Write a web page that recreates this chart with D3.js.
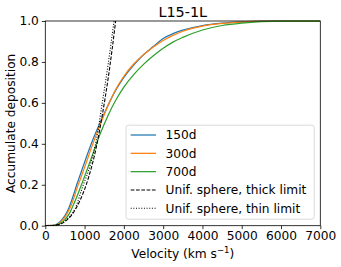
<!DOCTYPE html>
<html>
<head>
<meta charset="utf-8">
<script src="https://cdn.jsdelivr.net/npm/d3@7"></script>
<style>
  html, body { margin: 0; padding: 0; background: #fff; }
  svg { display: block; font-family: "DejaVu Sans", sans-serif; }
</style>
</head>
<body>
<svg id="chart" width="341" height="267"></svg>
<script>
// ---- data ----
const title = "L15-1L";
const xTicks = [0, 1000, 2000, 3000, 4000, 5000, 6000, 7000];
const yTicks = [0, 0.2, 0.4, 0.6, 0.8, 1.0];

const vGrid = [0, 200, 300, 400, 500, 600, 700, 800, 900, 1000, 1200, 1400, 1600, 1800, 2000, 2250, 2500, 2750, 3000, 3250, 3500, 4000, 4500, 5000, 5500, 6000, 7000];
const dep150 = [0, 0.001, 0.008, 0.025, 0.05, 0.087, 0.14, 0.2, 0.255, 0.31, 0.415, 0.505, 0.59, 0.665, 0.725, 0.785, 0.835, 0.875, 0.915, 0.938, 0.955, 0.978, 0.99, 0.996, 0.999, 1, 1];
const dep300 = [0, 0.001, 0.006, 0.02, 0.042, 0.075, 0.12, 0.18, 0.232, 0.285, 0.395, 0.495, 0.588, 0.668, 0.73, 0.79, 0.835, 0.873, 0.905, 0.93, 0.95, 0.975, 0.988, 0.995, 0.999, 1, 1];
const dep700 = [0, 0.0005, 0.004, 0.013, 0.03, 0.055, 0.095, 0.14, 0.19, 0.24, 0.345, 0.45, 0.54, 0.615, 0.677, 0.738, 0.788, 0.83, 0.867, 0.897, 0.92, 0.956, 0.978, 0.99, 0.997, 1, 1];

const vThick = [0, 300, 500, 700, 900, 1100, 1300, 1450, 1600, 1700, 1790];
const depThick = [0, 0.004, 0.02, 0.06, 0.13, 0.235, 0.385, 0.54, 0.72, 0.86, 1.0];
const vThin = [0, 250, 450, 600, 750, 950, 1150, 1300, 1450, 1600, 1750];
const depThin = [0, 0.002, 0.015, 0.04, 0.08, 0.19, 0.3, 0.42, 0.6, 0.79, 1.0];

const seriesNames = ["150d", "300d", "700d", "Unif. sphere, thick limit", "Unif. sphere, thin limit"];

// ---- layout ----
const svg = d3.select("#chart");
const pLeft = 45.3, pRight = 320.3, pTop = 21, pBottom = 225.7;
const x = d3.scaleLinear().domain([0, 7000]).range([pLeft, pRight]);
const y = d3.scaleLinear().domain([0, 1]).range([pBottom, pTop]);

const series = [
  { name: seriesNames[0], v: vGrid, f: dep150, color: "#1f77b4", dash: null, w: 1.25 },
  { name: seriesNames[1], v: vGrid, f: dep300, color: "#ff7f0e", dash: null, w: 1.25 },
  { name: seriesNames[2], v: vGrid, f: dep700, color: "#2ca02c", dash: null, w: 1.25 },
  { name: seriesNames[3], v: vThick, f: depThick, color: "#000", dash: "3.7,1.6", w: 1.1 },
  { name: seriesNames[4], v: vThin, f: depThin, color: "#000", dash: "1,1.65", w: 1.1 }
];

svg.append("defs").append("clipPath").attr("id", "clip")
  .append("rect").attr("x", pLeft).attr("y", pTop - 1).attr("width", pRight - pLeft).attr("height", pBottom - pTop + 1);

const line = d3.line().x(d => x(d[0])).y(d => y(d[1])).curve(d3.curveMonotoneX);
const g = svg.append("g").attr("clip-path", "url(#clip)");
series.forEach(s => {
  g.append("path")
    .datum(s.v.map((v, i) => [v, s.f[i]]))
    .attr("d", line)
    .attr("fill", "none")
    .attr("stroke", s.color)
    .attr("stroke-width", s.w)
    .attr("stroke-dasharray", s.dash);
});

// axes
const fs = "12.2px";
const xAxis = svg.append("g").attr("transform", `translate(0,${pBottom})`)
  .call(d3.axisBottom(x).tickValues(xTicks).tickFormat(d3.format("d")).tickSize(3.5).tickPadding(2.5));
const yAxis = svg.append("g").attr("transform", `translate(${pLeft},0)`)
  .call(d3.axisLeft(y).tickValues(yTicks).tickFormat(d3.format(".1f")).tickSize(3.5).tickPadding(3));
[xAxis, yAxis].forEach(a => {
  a.select(".domain").remove();
  a.selectAll("line").attr("stroke", "#000").attr("stroke-width", 0.8);
  a.selectAll("text").attr("font-size", fs).attr("fill", "#000").attr("font-family", "DejaVu Sans");
});

// spines
svg.append("rect").attr("x", pLeft).attr("y", pTop).attr("width", pRight - pLeft).attr("height", pBottom - pTop)
  .attr("fill", "none").attr("stroke", "#000").attr("stroke-width", 0.8);

// title and labels
svg.append("text").attr("x", (pLeft + pRight) / 2).attr("y", 16.5).attr("text-anchor", "middle")
  .attr("font-size", "14.4px").attr("fill", "#000").text(title);

const xl = svg.append("text").attr("x", (pLeft + pRight) / 2).attr("y", 257.5).attr("text-anchor", "middle")
  .attr("font-size", fs).attr("fill", "#000");
xl.append("tspan").text("Velocity (km s");
xl.append("tspan").attr("dy", -4.8).attr("font-size", "8.5px").text("\u22121");
xl.append("tspan").attr("dy", 4.8).text(")");

svg.append("text").attr("transform", `translate(15,${(pTop + pBottom) / 2}) rotate(-90)`)
  .attr("text-anchor", "middle").attr("font-size", fs).attr("fill", "#000").text("Accumulate deposition");

// legend
const lg = svg.append("g");
lg.append("rect").attr("x", 126).attr("y", 125.2).attr("width", 188.3).attr("height", 94)
  .attr("rx", 2.5).attr("fill", "#fff").attr("fill-opacity", 0.8).attr("stroke", "#d0d0d0").attr("stroke-width", 0.8);
series.forEach((s, i) => {
  const yy = 135 + i * 18.33;
  lg.append("line").attr("x1", 130.7).attr("x2", 156).attr("y1", yy).attr("y2", yy)
    .attr("stroke", s.color).attr("stroke-width", s.w).attr("stroke-dasharray", s.dash);
  lg.append("text").attr("x", 165.5).attr("y", yy + 4.4).attr("font-size", fs).attr("fill", "#000").text(s.name);
});
</script>
</body>
</html>
